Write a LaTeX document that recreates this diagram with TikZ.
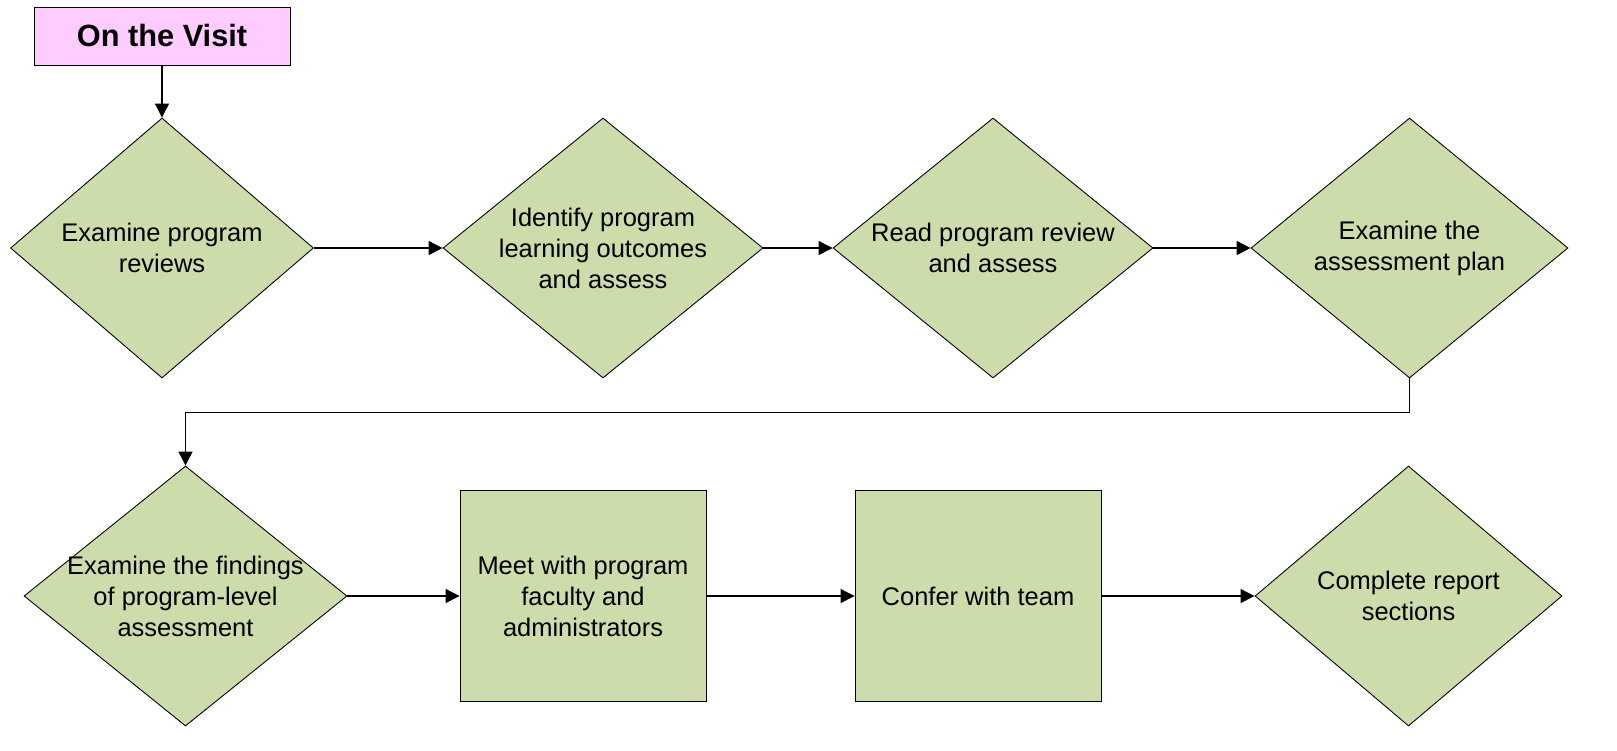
\documentclass[tikz,border=0pt]{standalone}
\usepackage{fontspec}
\setmainfont{Liberation Sans}
\usetikzlibrary{shapes.geometric,arrows.meta}
\definecolor{stepgreen}{RGB}{204,220,170}
\definecolor{headpink}{RGB}{255,204,255}

\begin{document}
\begin{tikzpicture}
      \useasboundingbox (0,0) rectangle (32.34,-15);
      \begin{scope}[every node/.style={draw,fill=stepgreen,line width=0.5pt,inner sep=0pt}]
        \node[rectangle,fill=headpink,minimum width=5.12cm,minimum height=1.16cm,
          font=\fontsize{17.5}{21}\selectfont\bfseries] (visit) at (3.24,-0.72) {On the Visit};
        \node[diamond,minimum width=6.06cm,minimum height=5.2cm] (reviews) at (3.24,-4.96) {};
        \node[diamond,minimum width=6.4cm,minimum height=5.2cm] (outcomes) at (12.06,-4.96) {};
        \node[diamond,minimum width=6.4cm,minimum height=5.2cm] (readreview) at (19.86,-4.96) {};
        \node[diamond,minimum width=6.34cm,minimum height=5.2cm] (plan) at (28.19,-4.96) {};
        \node[diamond,minimum width=6.46cm,minimum height=5.2cm] (findings) at (3.71,-11.92) {};
        \node[rectangle,minimum width=4.92cm,minimum height=4.22cm] (meet) at (11.66,-11.92) {};
        \node[rectangle,minimum width=4.92cm,minimum height=4.22cm] (confer) at (19.56,-11.92) {};
        \node[diamond,minimum width=6.14cm,minimum height=5.2cm] (report) at (28.17,-11.92) {};
      \end{scope}
      \begin{scope}[every node/.style={align=center,font=\fontsize{14.5}{17.6}\selectfont}]
        \node at (reviews) {Examine program\\reviews};
        \node at (outcomes) {Identify program\\learning outcomes\\and assess};
        \node at (readreview) {Read program review\\and assess};
        \node at (plan) {Examine the\\assessment plan};
        \node at (findings) {Examine the findings\\of program-level\\assessment};
        \node at (meet) {Meet with program\\faculty and\\administrators};
        \node at (confer) {Confer with team};
        \node at (report) {Complete report\\sections};
      \end{scope}
      \begin{scope}[every edge/.style={draw,line width=0.6pt,-{Triangle[length=0.28cm,width=0.28cm]}}]
        \path (visit) edge (reviews);
        \path (reviews) edge (outcomes);
        \path (outcomes) edge (readreview);
        \path (readreview) edge (plan);
        \path (findings) edge (meet);
        \path (meet) edge (confer);
        \path (confer) edge (report);
      \end{scope}
      \draw[line width=0.6pt,-{Triangle[length=0.28cm,width=0.28cm]}]
        (plan.south) -- ++(0,-0.68) -| (findings.north);
    \end{tikzpicture}
\end{document}
